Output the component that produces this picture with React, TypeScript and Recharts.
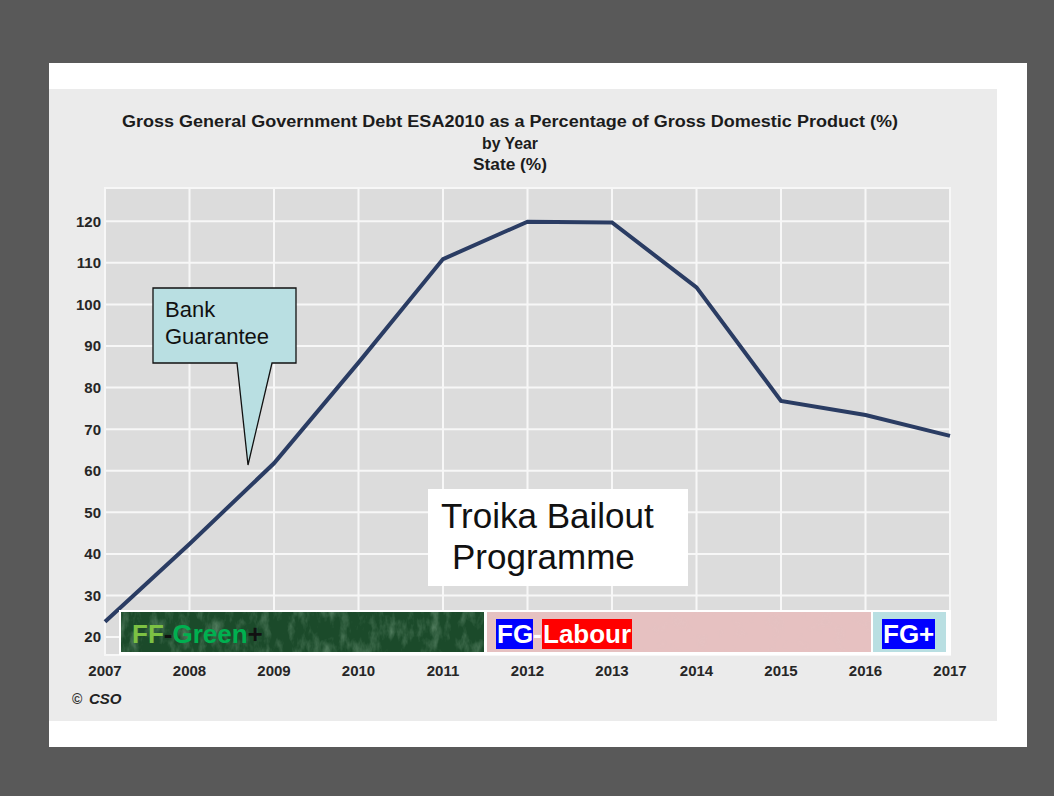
import React from "react";
import { CartesianGrid, Line, LineChart, ReferenceArea, XAxis, YAxis } from "recharts";

const years = [2007, 2008, 2009, 2010, 2011, 2012, 2013, 2014, 2015, 2016, 2017];
const debtPct = [23.7, 42.4, 61.8, 86.0, 110.9, 119.9, 119.7, 104.1, 76.8, 73.4, 68.4];
const yTicks = [20, 30, 40, 50, 60, 70, 80, 90, 100, 110, 120];
const titleLines = [
  "Gross General Government Debt ESA2010 as a Percentage of Gross Domestic Product (%)",
  "by Year",
  "State (%)",
];
const titleWidths = [776, 56, 74];

const data = years.map((year, i) => ({ year, debt: debtPct[i] }));

const FONT = "'Liberation Sans', Arial, sans-serif";
const tickStyle = { fontSize: 15, fontWeight: 700, fill: "#262626", fontFamily: FONT };

function Overlay() {
  return (
    <svg
      width={1054}
      height={796}
      style={{ position: "absolute", left: 0, top: 0, pointerEvents: "none" }}
      fontFamily={FONT}
    >
      <defs>
        <filter id="marble" x="0" y="0" width="100%" height="100%">
          <feTurbulence type="fractalNoise" baseFrequency="0.1 0.05" numOctaves="4" seed="4" />
          <feColorMatrix
            type="matrix"
            values="0 0 0 0 0.6  0 0 0 0 0.85  0 0 0 0 0.65  0 0 0 2.2 -1.0"
          />
        </filter>
        <filter id="paper" x="0" y="0" width="100%" height="100%">
          <feTurbulence type="fractalNoise" baseFrequency="0.06" numOctaves="2" seed="9" />
          <feColorMatrix
            type="matrix"
            values="0 0 0 0 0.75  0 0 0 0 0.55  0 0 0 0 0.55  0 0 0 2 -0.9"
          />
        </filter>
      </defs>

      {/* title */}
      {titleLines.map((t, i) => (
        <text
          key={t}
          x={510}
          y={127 + i * 21.5}
          textAnchor="middle"
          fontSize={16}
          fontWeight={700}
          fill="#1c1c1c"
          textLength={titleWidths[i]}
          lengthAdjust="spacingAndGlyphs"
        >
          {t}
        </text>
      ))}

      {/* source */}
      <text x={72} y={704} fontSize={14} fontWeight={700} fill="#333">©</text>
      <text x={89} y={704} fontSize={15} fontWeight={700} fontStyle="italic" fill="#222">CSO</text>

      {/* bank guarantee callout */}
      <path
        d="M153,288 H296 V363 H272 L248,465 L237,363 H153 Z"
        fill="#b9dfe2"
        stroke="#111"
        strokeWidth={1.3}
      />
      <text x={165} y={317} fontSize={22} fill="#111">Bank</text>
      <text x={165} y={344} fontSize={22} fill="#111">Guarantee</text>

      {/* troika box */}
      <rect x={428} y={489} width={260} height={97} fill="#fff" />
      <text x={441} y={528} fontSize={35} fill="#111">Troika Bailout</text>
      <text x={452} y={569} fontSize={35} fill="#111">Programme</text>

      {/* government bands */}
      <rect x={119} y={610} width={832} height={45} fill="#fff" />
      <rect x={121} y={612} width={363} height={40} fill="#1b4a2a" />
      <rect x={121} y={612} width={363} height={40} fill="#000" filter="url(#marble)" opacity={0.3} />
      <rect x={487} y={612} width={384} height={40} fill="#e6c1c1" />
      <rect x={487} y={612} width={384} height={40} fill="#000" filter="url(#paper)" opacity={0.25} />
      <rect x={873} y={612} width={73} height={40} fill="#b9dfe2" />

      <text x={132} y={643} fontSize={26} fontWeight={700}>
        <tspan fill="#7cc143">FF</tspan>
        <tspan fill="#111">-</tspan>
        <tspan fill="#00b050">Green</tspan>
        <tspan fill="#111">+</tspan>
      </text>

      <rect x={496} y={619} width={37} height={30} fill="#0000ff" />
      <text x={497} y={643} fontSize={26} fontWeight={700} fill="#fff">FG</text>
      <text x={533} y={643} fontSize={26} fontWeight={700} fill="#fff">-</text>
      <rect x={542} y={619} width={90} height={30} fill="#ff0000" />
      <text x={543} y={643} fontSize={26} fontWeight={700} fill="#fff">Labour</text>

      <rect x={882} y={619} width={53} height={30} fill="#0000ff" />
      <text x={883} y={643} fontSize={26} fontWeight={700} fill="#fff">FG+</text>
    </svg>
  );
}

export default function App() {
  return (
    <div
      style={{
        position: "absolute",
        left: 0,
        top: 0,
        width: 1054,
        height: 796,
        background: "#595959",
        overflow: "hidden",
      }}
    >
      <div style={{ position: "absolute", left: 49, top: 63, width: 978, height: 684, background: "#ffffff" }} />
      <div style={{ position: "absolute", left: 49, top: 89, width: 948, height: 632, background: "#ebebeb" }} />

      <div style={{ position: "absolute", left: 0, top: 0 }}>
        <LineChart width={1054} height={796} data={data} margin={{ top: 188, right: 104, bottom: 111, left: 45 }}>
          <CartesianGrid fill="#dcdcdc" stroke="#f7f7f7" strokeWidth={2} />
          <ReferenceArea x1={2007} x2={2017} y1={15.7} y2={128} fill="none" stroke="#f7f7f7" strokeWidth={2} />
          <XAxis
            type="number"
            dataKey="year"
            domain={[2007, 2017]}
            ticks={years}
            axisLine={false}
            tickLine={false}
            tickMargin={4}
            tick={tickStyle}
            height={30}
          />
          <YAxis
            type="number"
            domain={[15.7, 128]}
            ticks={yTicks}
            allowDataOverflow
            axisLine={false}
            tickLine={false}
            tickSize={2}
            tickMargin={2}
            tick={tickStyle}
            width={60}
          />
          <Line
            type="linear"
            dataKey="debt"
            stroke="#2a3c63"
            strokeWidth={4}
            dot={false}
            isAnimationActive={false}
          />
        </LineChart>
      </div>

      <Overlay />
    </div>
  );
}
